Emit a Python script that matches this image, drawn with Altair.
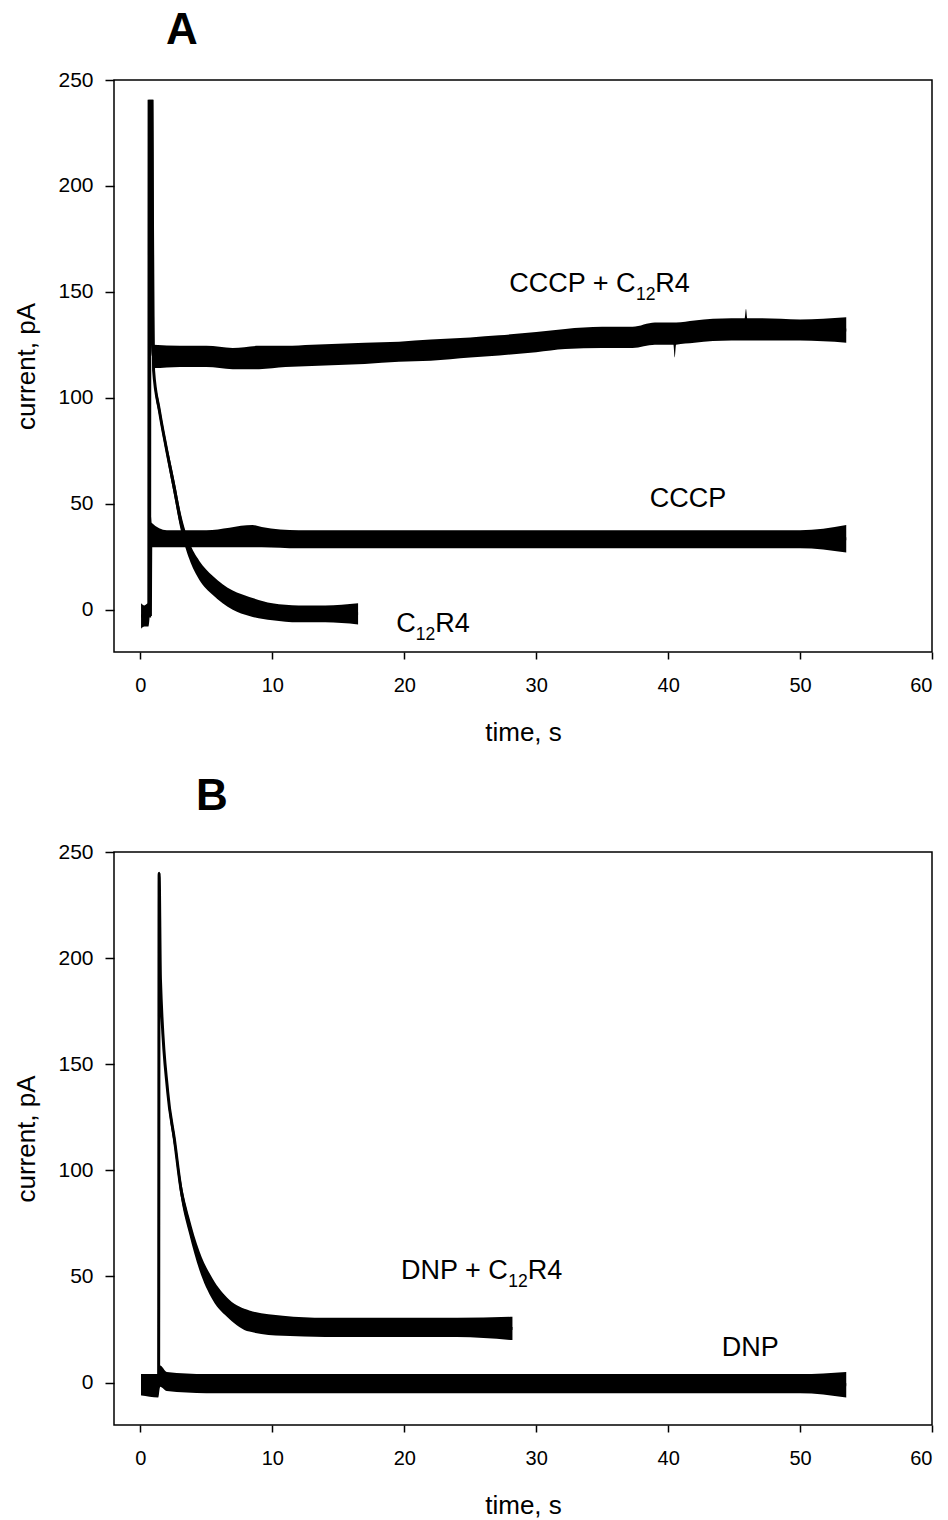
import altair as alt
import pandas as pd

FONT = "Liberation Sans"

# ---------------- Panel A data (time s, envelope low/high pA) ----------------
a_c12_t  = [0.05, 0.3, 0.6, 0.70, 0.72, 0.86, 0.90, 0.95, 1.00, 1.44, 1.94, 2.58, 3.08, 3.70, 4.47, 5.47, 7.00, 8.26, 10.0, 12.0, 14.0, 16.5]
a_c12_lo = [-9, -8, -8, -3, 240, 240, 200, 150, 110, 91, 74, 53, 37, 24, 14, 7, 0, -3, -5, -6, -6, -7]
a_c12_hi = [3, 2, 3, -3, 240, 240, 200, 150, 116, 97, 80, 61, 45, 32, 23, 16, 9, 6, 3, 2, 2, 3]

a_cccpc12_t  = [0.64, 0.66, 0.88, 0.92, 0.96, 1.0, 3, 5, 7, 9, 11, 13, 15, 17, 19.6, 22, 25, 27.2, 30, 32.2, 35, 37.3, 39, 40.4, 40.5, 40.6, 42, 44.8, 45.8, 45.9, 46.0, 47, 50, 53.5]
a_cccpc12_lo = [-3, 240, 240, 125, 115, 114, 114.5, 114.5, 113.5, 113.5, 114.5, 115, 115.5, 116, 117, 117.5, 119, 120, 121.5, 123, 123.5, 123.5, 125, 125, 119, 125, 126, 127, 127, 127, 127, 127, 127, 126]
a_cccpc12_hi = [-3, 240, 240, 125, 126, 125, 124.5, 124.5, 123.5, 124.5, 124.5, 125, 125.5, 126, 126.5, 127.5, 128.5, 129.5, 131, 132.5, 133.5, 133.5, 135.5, 135.5, 135.5, 135.5, 136.5, 137.5, 137.5, 142, 137.5, 137.5, 137, 138]

a_cccp_t  = [0.76, 0.80, 0.85, 2, 5, 8.5, 9.2, 12, 20, 30, 40, 50, 53.5]
a_cccp_lo = [-3, 30, 29.5, 29.5, 29.5, 29.5, 29.5, 29, 29, 29, 29, 29, 27]
a_cccp_hi = [-3, 44, 41, 37.5, 37.5, 40, 39, 37.5, 37.5, 37.5, 37.5, 37.5, 40]

# ---------------- Panel B data ----------------
b_dnpc12_t  = [0.05, 1.35, 1.38, 1.42, 1.52, 2.07, 2.58, 3.08, 3.70, 4.47, 5.47, 6.74, 8.26, 10.8, 14, 17, 20, 24, 28.2]
b_dnpc12_lo = [-6, -6, -2, 240, 189, 134, 111, 87, 70, 53, 39, 30, 24, 22, 21.5, 21.5, 21.5, 21.5, 20]
b_dnpc12_hi = [4, 4, -2, 240, 191, 140, 118, 95, 78, 62, 49, 39, 34, 31.5, 30.5, 30.5, 30.5, 30.5, 31]

b_dnp_t  = [0.05, 1.35, 1.50, 2.0, 5, 10, 20, 30, 40, 50, 53.5]
b_dnp_lo = [-6, -7, -2, -4, -5, -5, -5, -5, -5, -5, -7]
b_dnp_hi = [4, 4, 8, 5, 4, 4, 4, 4, 4, 4, 5]

# Annotation labels: main text, subscript, tail, time anchor, current anchor
labels_a = [("CCCP + C", "12", "R4", 27.95, 150.0),
            ("CCCP", "", "", 38.6, 48.3),
            ("C", "12", "R4", 19.4, -10.4)]
labels_b = [("DNP + C", "12", "R4", 19.75, 48.9),
            ("DNP", "", "", 44.07, 12.5)]

x_ticks = [0, 10, 20, 30, 40, 50, 60]
y_ticks = [0, 50, 100, 150, 200, 250]

MAIN_FS = 27
SUB_FS = 17.5


def text_width(s, fs):
    w = {"C": .722, "P": .667, "D": .722, "N": .722, " ": .278, "+": .584,
         "1": .556, "2": .556, "R": .722, "4": .556}
    return sum(w.get(c, .6) for c in s) * fs


def trace_df(name, t, lo, hi):
    return pd.DataFrame({"trace": name, "t": t, "lo": lo, "hi": hi,
                         "v": [(a + b) / 2 for a, b in zip(lo, hi)],
                         "i": list(range(len(t)))})


x_scale = alt.Scale(domain=[-2, 60], nice=False, zero=False)
y_scale = alt.Scale(domain=[-20, 250], nice=False, zero=False)

x_axis = alt.Axis(values=x_ticks, title="time, s", grid=False, domain=False,
                  tickSize=7, tickWidth=1.5, tickColor="black",
                  labelFont=FONT, labelFontSize=20, labelColor="black", labelPadding=16,
                  titleFont=FONT, titleFontSize=26, titleFontWeight="normal",
                  titleColor="black", titlePadding=24)
y_axis = alt.Axis(values=y_ticks, title="current, pA", grid=False, domain=False,
                  tickSize=9, tickWidth=1.5, tickColor="black",
                  labelFont=FONT, labelFontSize=21, labelColor="black", labelPadding=12,
                  titleFont=FONT, titleFontSize=26, titleFontWeight="normal",
                  titleColor="black", titlePadding=18)

X = alt.X("t:Q", scale=x_scale, axis=x_axis)
Y = alt.Y("v:Q", scale=y_scale, axis=y_axis)


def panel(traces, labels, title, dx, offset, height):
    df = pd.concat([trace_df(*tr) for tr in traces], ignore_index=True)
    band = alt.Chart(df).mark_area(color="black", opacity=1, interpolate="monotone").encode(
        x=X, y=alt.Y("lo:Q", scale=y_scale, axis=y_axis), y2="hi:Q", detail="trace:N")
    line = alt.Chart(df).mark_line(color="black", strokeWidth=3, interpolate="monotone").encode(
        x=X, y=Y, detail="trace:N", order="i:Q")
    layers = [band, line]
    for main, sub, tail, t, v in labels:
        pieces = [(main, MAIN_FS, 0, 0)]
        if sub:
            w1 = text_width(main, MAIN_FS)
            pieces.append((sub, SUB_FS, w1, 8))
            pieces.append((tail, MAIN_FS, w1 + text_width(sub, SUB_FS), 0))
        for txt, fs, ddx, ddy in pieces:
            tdf = pd.DataFrame({"t": [t], "v": [v], "s": [txt]})
            layers.append(alt.Chart(tdf).mark_text(
                align="left", baseline="alphabetic", font=FONT, fontSize=fs,
                dx=ddx, dy=ddy, color="black").encode(x=X, y=Y, text="s:N"))
    return alt.layer(*layers).properties(
        width=818, height=height,
        title=alt.TitleParams(title, anchor="start", frame="group", dx=dx,
                              offset=offset, font=FONT, fontSize=44,
                              fontWeight="bold", color="black"))


panel_a = panel([("C12R4", a_c12_t, a_c12_lo, a_c12_hi),
                 ("CCCP+C12R4", a_cccpc12_t, a_cccpc12_lo, a_cccpc12_hi),
                 ("CCCP", a_cccp_t, a_cccp_lo, a_cccp_hi)],
                labels_a, "A", 52, 16, 572)
panel_b = panel([("DNP+C12R4", b_dnpc12_t, b_dnpc12_lo, b_dnpc12_hi),
                 ("DNP", b_dnp_t, b_dnp_lo, b_dnp_hi)],
                labels_b, "B", 82, 22, 573)

chart = alt.vconcat(panel_a, panel_b, spacing=28).properties(
    padding={"left": 5, "top": 0, "right": 0, "bottom": 0}
).configure(background="white").configure_view(stroke="black", strokeWidth=1.5)

chart.save("out.html", embed_options={"renderer": "svg", "actions": False})
